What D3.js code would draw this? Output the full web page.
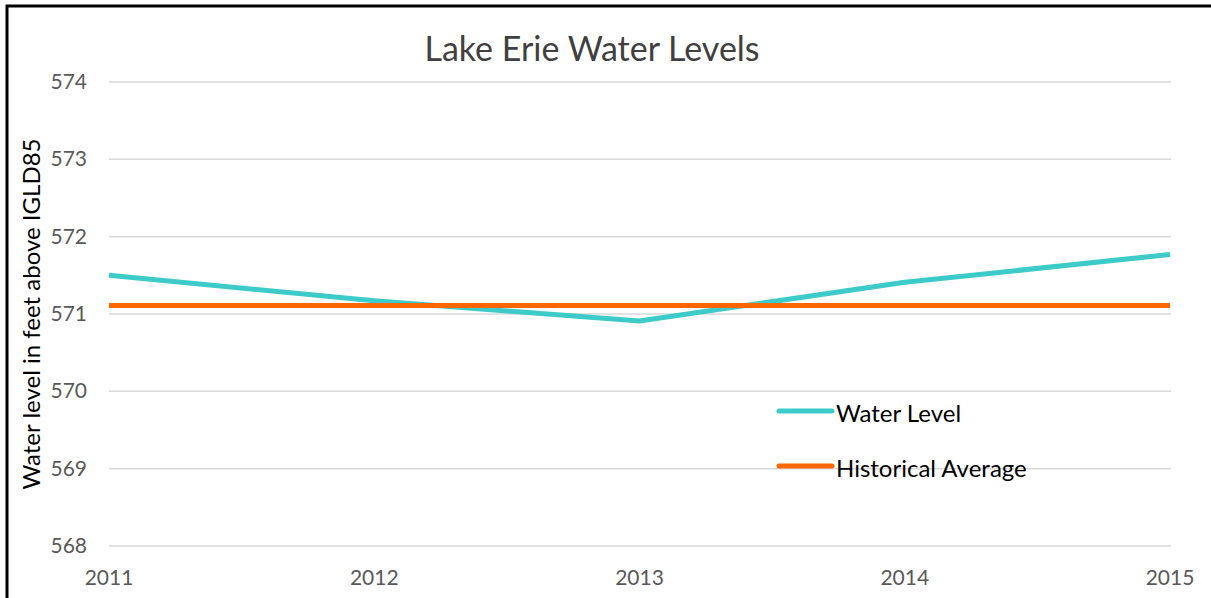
<!DOCTYPE html>
<html>
<head>
<meta charset="utf-8">
<script src="https://cdn.jsdelivr.net/npm/d3@7"></script>
<style>
  body { margin: 0; background: #fff; }
  text { font-family: Lato, "Open Sans", sans-serif; }
</style>
</head>
<body>
<svg id="chart" width="1211" height="598"></svg>
<script>
// Chart data
let years = [2011, 2012, 2013, 2014, 2015];
let waterLevel = [571.5, 571.17, 570.91, 571.41, 571.77];
let historicalAverage = [571.11, 571.11, 571.11, 571.11, 571.11];
let yTicks = [568, 569, 570, 571, 572, 573, 574];
let seriesNames = ["Water Level", "Historical Average"];
let seriesColors = ["#3ccbc9", "#ff6600"];

let svg = d3.select("#chart");

// Outer frame (partly cut off at right and bottom)
svg
  .append("rect")
  .attr("x", 7)
  .attr("y", 6)
  .attr("width", 1230)
  .attr("height", 620)
  .attr("fill", "none")
  .attr("stroke", "#000")
  .attr("stroke-width", 3);

// Scales
const x = d3.scaleLinear().domain([2011, 2015]).range([109, 1170]);
const y = d3.scaleLinear().domain([568, 574]).range([546, 82]);

// Grid lines
svg
  .append("g")
  .selectAll("line")
  .data(yTicks)
  .enter()
  .append("line")
  .attr("x1", 109)
  .attr("x2", 1171)
  .attr("y1", (d) => y(d))
  .attr("y2", (d) => y(d))
  .attr("stroke", "#d9d9d9")
  .attr("stroke-width", 1.5);

// Y tick labels
svg
  .append("g")
  .selectAll("text")
  .data(yTicks)
  .enter()
  .append("text")
  .attr("x", 87)
  .attr("y", (d) => y(d) + 7)
  .attr("text-anchor", "end")
  .attr("font-size", "21px")
  .attr("fill", "#595959")
  .text((d) => d);

// X tick labels
svg
  .append("g")
  .selectAll("text")
  .data(years)
  .enter()
  .append("text")
  .attr("x", (d) => x(d))
  .attr("y", 585)
  .attr("text-anchor", "middle")
  .attr("font-size", "21px")
  .attr("fill", "#595959")
  .text((d) => d);

// Lines
const line = d3
  .line()
  .x((d, i) => x(years[i]))
  .y((d) => y(d));

[waterLevel, historicalAverage].forEach((series, i) => {
  svg
    .append("path")
    .datum(series)
    .attr("d", line)
    .attr("fill", "none")
    .attr("stroke", seriesColors[i])
    .attr("stroke-width", 5)
    .attr("stroke-linejoin", "round");
});

// Title
svg
  .append("text")
  .attr("x", 592)
  .attr("y", 61)
  .attr("text-anchor", "middle")
  .attr("font-size", "34px")
  .attr("fill", "#404040")
  .text("Lake Erie Water Levels");

// Y axis label
svg
  .append("text")
  .attr("transform", "translate(40,314) rotate(-90)")
  .attr("text-anchor", "middle")
  .attr("font-size", "24px")
  .attr("fill", "#000")
  .text("Water level in feet above IGLD85");

// Legend
const legendY = [411, 466];
seriesNames.forEach((name, i) => {
  svg
    .append("line")
    .attr("x1", 779)
    .attr("x2", 832)
    .attr("y1", legendY[i])
    .attr("y2", legendY[i])
    .attr("stroke", seriesColors[i])
    .attr("stroke-width", 5)
    .attr("stroke-linecap", "round");
  svg
    .append("text")
    .attr("x", 836)
    .attr("y", legendY[i] + 11)
    .attr("font-size", "24px")
    .attr("fill", "#000")
    .text(name);
});
</script>
</body>
</html>
